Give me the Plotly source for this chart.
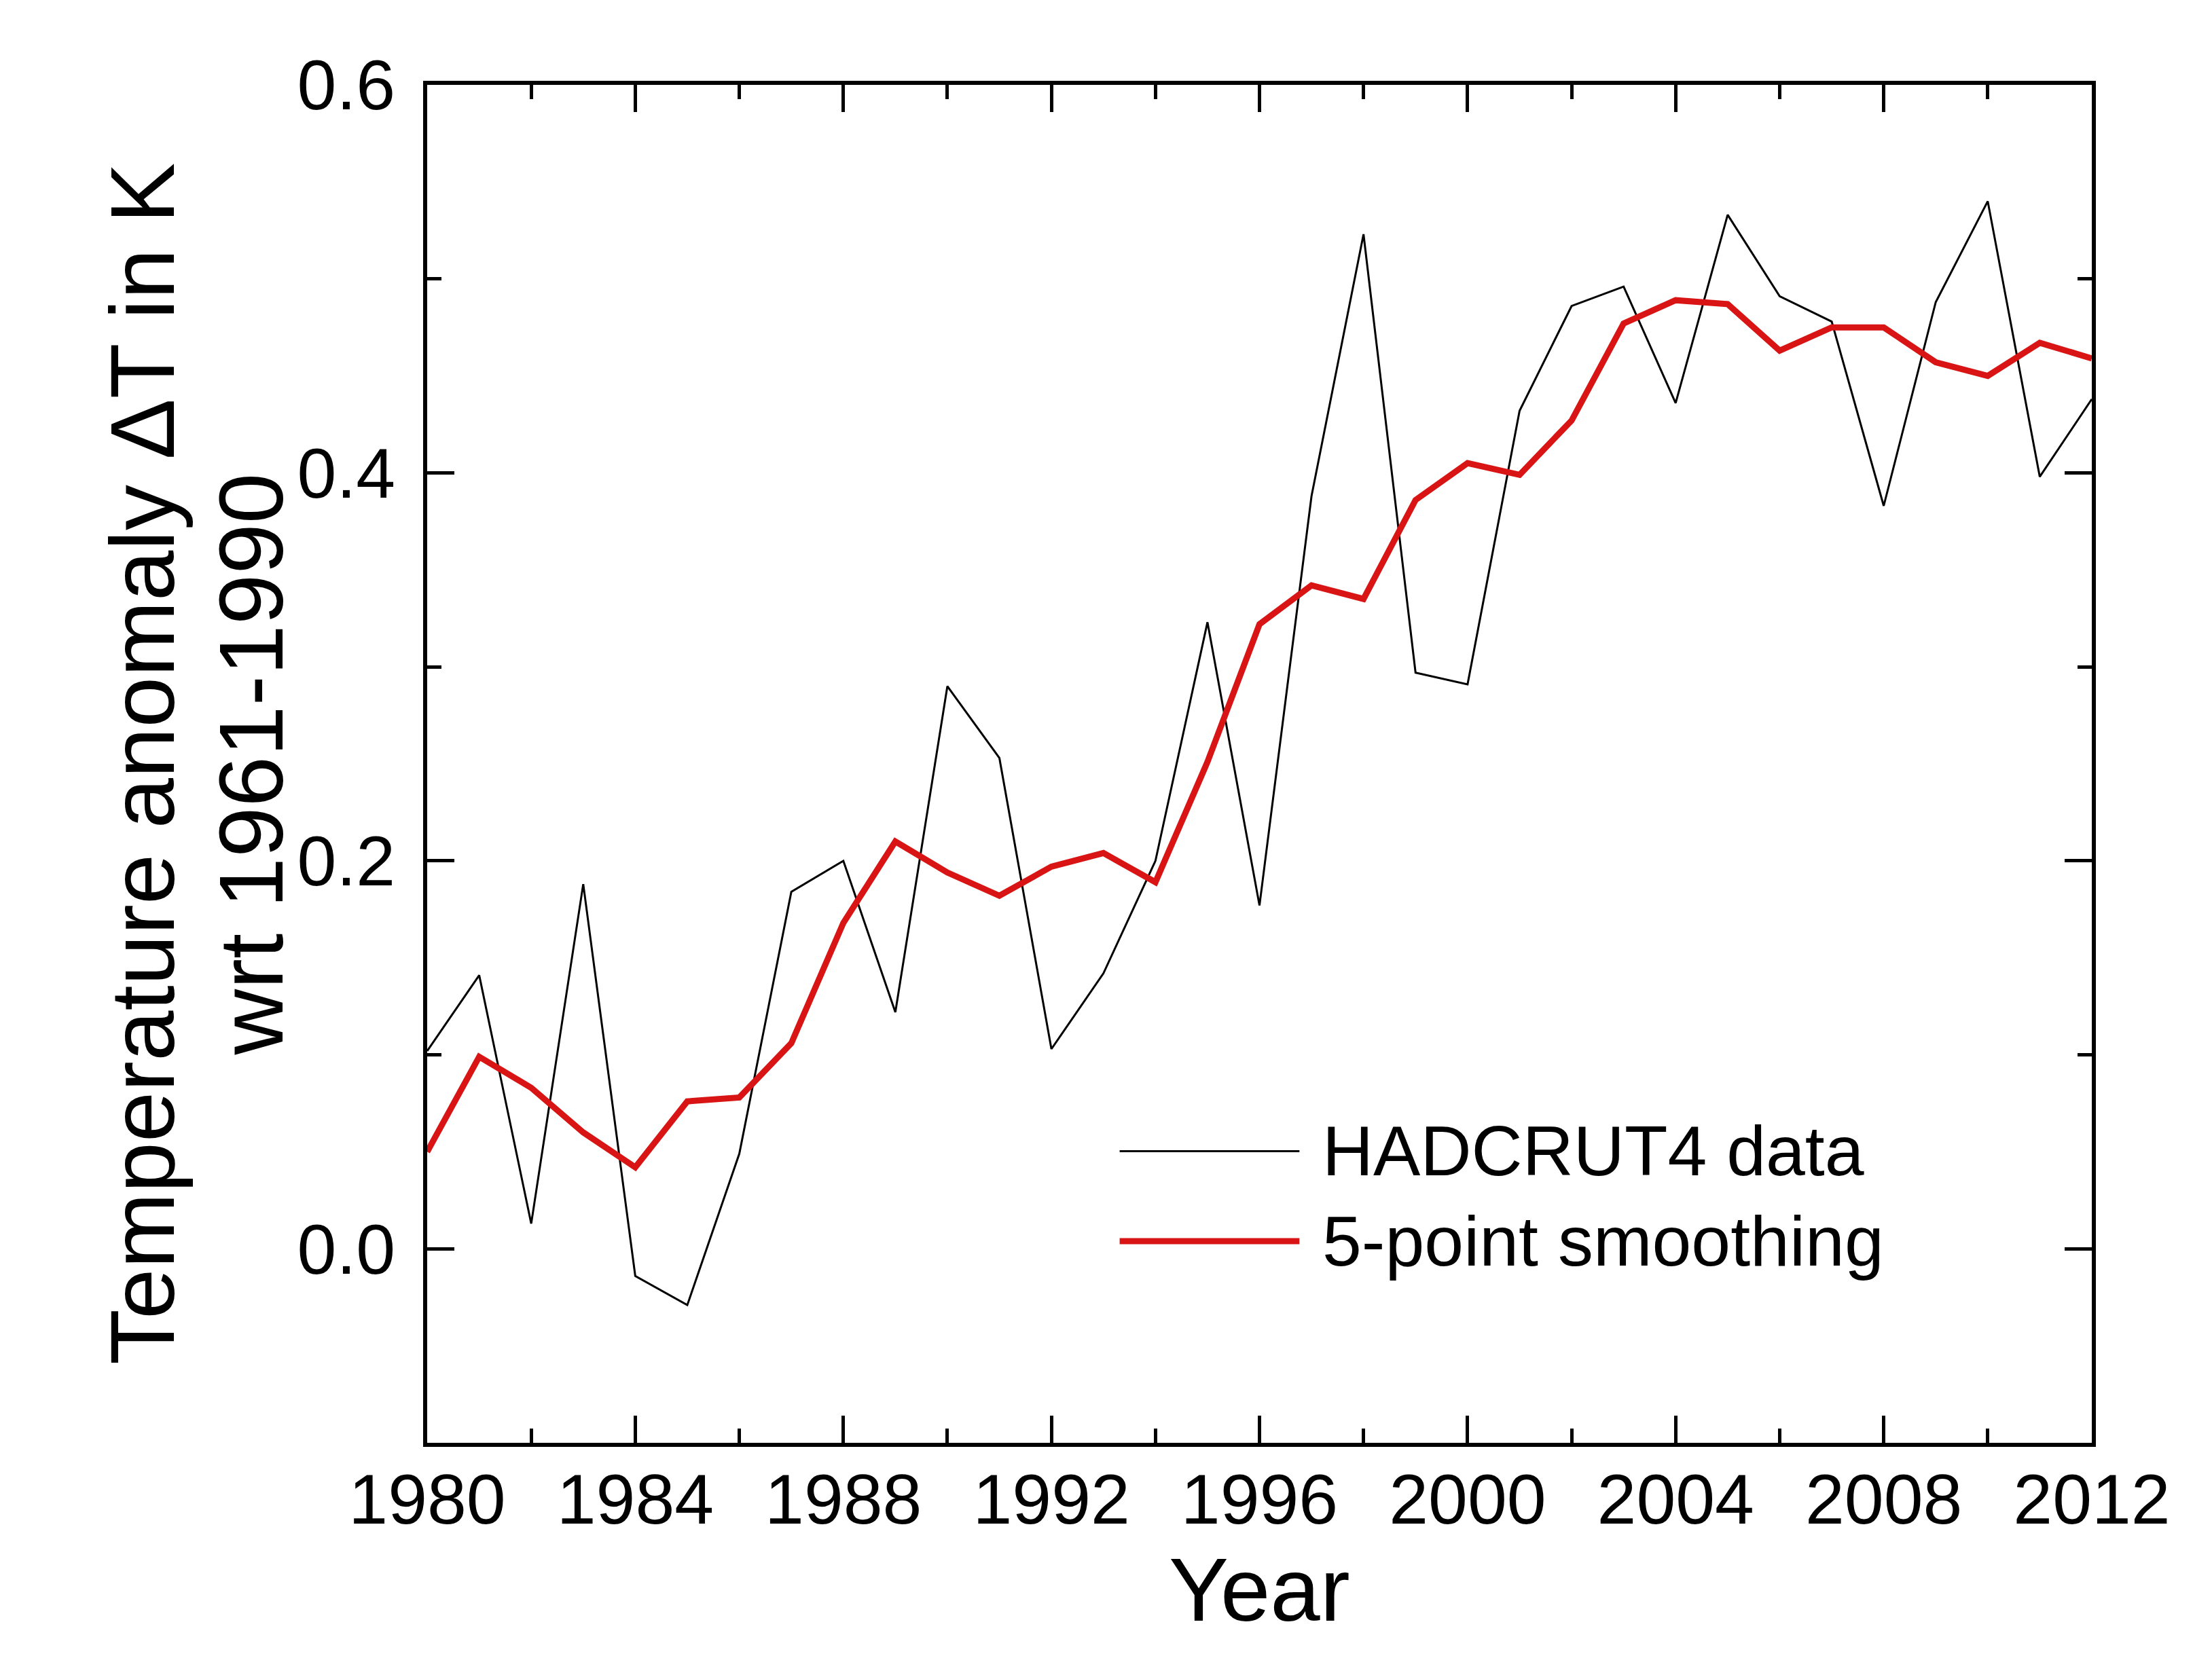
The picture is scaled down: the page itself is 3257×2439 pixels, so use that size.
import plotly.graph_objects as go

years = list(range(1980, 2013))
hadcrut4 = [0.102, 0.141, 0.013, 0.188, -0.014, -0.029, 0.049, 0.184, 0.200, 0.122,
            0.290, 0.253, 0.103, 0.142, 0.200, 0.323, 0.177, 0.388, 0.523, 0.297,
            0.291, 0.432, 0.486, 0.496, 0.436, 0.533, 0.491, 0.478, 0.383, 0.488,
            0.540, 0.398, 0.438]
smoothed = [0.050, 0.099, 0.083, 0.060, 0.042, 0.076, 0.078, 0.106, 0.168, 0.210,
            0.194, 0.182, 0.197, 0.204, 0.189, 0.251, 0.322, 0.342, 0.335, 0.386,
            0.405, 0.399, 0.427, 0.477, 0.489, 0.487, 0.463, 0.475, 0.475, 0.457,
            0.450, 0.467, 0.459]
series_names = ["HADCRUT4 data", "5-point smoothing"]
x_ticks = [1980, 1984, 1988, 1992, 1996, 2000, 2004, 2008, 2012]
y_ticks = [0.0, 0.2, 0.4, 0.6]
x_title = "Year"
y_title_lines = ["Temperature anomaly \u0394T in K", "wrt 1961-1990"]

BLACK = "#000000"
RED = "#d91414"
FONT = "Liberation Sans, Arial, sans-serif"

fig = go.Figure()
fig.add_trace(go.Scatter(x=years, y=hadcrut4, mode="lines", name=series_names[0],
                         line=dict(color=BLACK, width=3), showlegend=False))
fig.add_trace(go.Scatter(x=years, y=smoothed, mode="lines", name=series_names[1],
                         line=dict(color=RED, width=9), showlegend=False))

axis_common = dict(
    showline=True, linecolor=BLACK, linewidth=6, mirror="allticks",
    ticks="inside", ticklen=40, tickwidth=5, tickcolor=BLACK,
    showgrid=False, zeroline=False,
    tickfont=dict(family=FONT, size=104, color=BLACK),
)

fig.update_xaxes(
    range=[1980, 2012], tickmode="array", tickvals=x_ticks,
    ticktext=[str(v) for v in x_ticks],
    minor=dict(dtick=2, tick0=1980, ticks="inside", ticklen=21, tickwidth=5,
               tickcolor=BLACK, showgrid=False),
    ticklabelstandoff=-12,
    **axis_common,
)
fig.update_yaxes(
    range=[-0.1, 0.6], tickmode="array", tickvals=y_ticks,
    ticktext=["%.1f" % v for v in y_ticks],
    minor=dict(dtick=0.1, tick0=0, ticks="inside", ticklen=21, tickwidth=5,
               tickcolor=BLACK, showgrid=False),
    ticklabelstandoff=20,
    **axis_common,
)

# axis titles
fig.add_annotation(xref="paper", yref="paper", x=0.5, y=-0.108, text=x_title,
                   showarrow=False, xanchor="center", yanchor="middle",
                   font=dict(family=FONT, size=132, color=BLACK))
for xp, line in zip([-0.1714, -0.1059], y_title_lines):
    fig.add_annotation(xref="paper", yref="paper", x=xp, y=0.5, text=line,
                       showarrow=False, xanchor="center", yanchor="middle",
                       textangle=-90,
                       font=dict(family=FONT, size=134, color=BLACK))

# manual legend with long sample lines
legend_rows = [(0.2148, BLACK, 3), (0.1485, RED, 9)]
for (yp, col, w), name in zip(legend_rows, series_names):
    fig.add_shape(type="line", xref="paper", yref="paper", x0=0.416, x1=0.524,
                  y0=yp, y1=yp, line=dict(color=col, width=w))
    fig.add_annotation(xref="paper", yref="paper", x=0.537, y=yp, text=name,
                       showarrow=False, xanchor="left", yanchor="middle",
                       font=dict(family=FONT, size=104, color=BLACK))

fig.update_layout(
    width=3257, height=2439,
    margin=dict(l=621, r=185, t=117, b=322),
    paper_bgcolor="white", plot_bgcolor="white",
    showlegend=False,
)

fig.write_html("out.html")
